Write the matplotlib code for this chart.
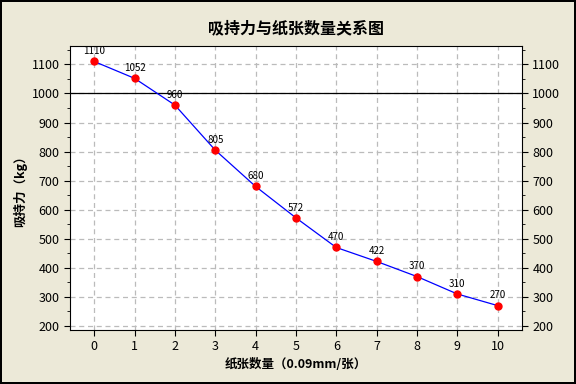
import numpy as np
import matplotlib.pyplot as plt
from matplotlib.ticker import MultipleLocator

plt.rcParams['font.family'] = ['Noto Sans CJK SC', 'DejaVu Sans']

# 数据
sheets = [0, 1, 2, 3, 4, 5, 6, 7, 8, 9, 10]
force = [1110, 1052, 960, 805, 680, 572, 470, 422, 370, 310, 270]
bg = '#ECE9D8'

fig = plt.figure(figsize=(5.76, 3.84), dpi=100, facecolor=bg,
                 edgecolor='black', linewidth=1.5)
ax = fig.add_axes([0.1215, 0.1406, 0.7845, 0.7394])

ax.plot(sheets, force, color='blue', lw=0.9, zorder=3)
ax.plot(sheets, force, 'o', color='red', ms=5, zorder=4)
for x, y in zip(sheets, force):
    ax.text(x, y + 18, str(y), ha='center', va='bottom', fontsize=7, zorder=5)

ax.axhline(1000, color='black', lw=0.9, zorder=2)

ax.set_xlim(-0.6, 10.6)
ax.set_ylim(186, 1163)
ax.set_xticks(sheets)
ax.yaxis.set_major_locator(MultipleLocator(100))
ax.yaxis.set_minor_locator(MultipleLocator(50))
ax.grid(True, ls='--', color='#BBBBBB', lw=0.9, dashes=(4, 3))
ax.tick_params(axis='both', labelsize=9, direction='out', length=4)
ax.tick_params(axis='y', which='both', right=True, labelright=True)
ax.tick_params(axis='y', which='minor', length=2.5)

ax.set_title('吸持力与纸张数量关系图', fontsize=11.5, fontweight='bold', pad=9)
ax.set_xlabel('纸张数量（0.09mm/张）', fontsize=9, fontweight='bold', labelpad=3)
ax.set_ylabel('吸持力（kg）', fontsize=9, fontweight='bold', labelpad=3)

fig.savefig('out.png', dpi=100, facecolor=bg, edgecolor='black')
